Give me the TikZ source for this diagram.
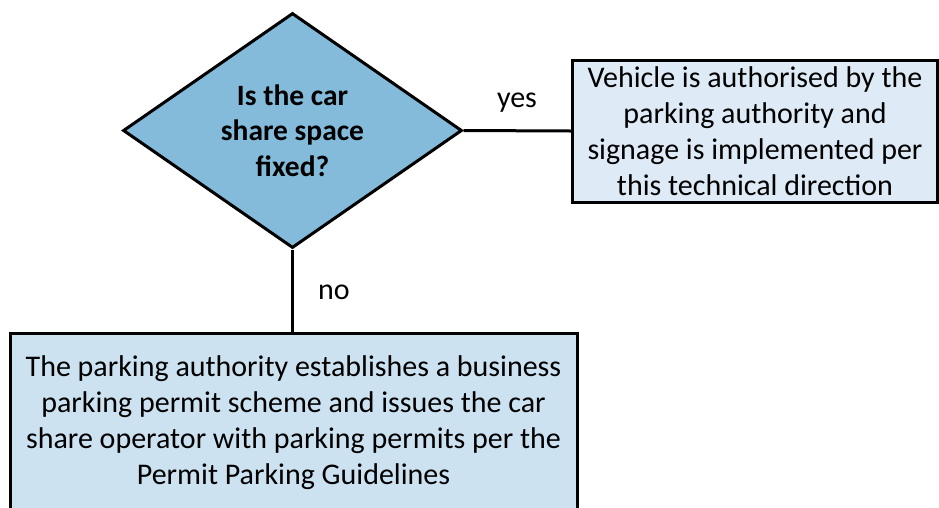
\documentclass[tikz,border=0pt]{standalone}
\usepackage{fontspec}
\setmainfont{Carlito}
\usetikzlibrary{shapes.geometric}
\definecolor{diafill}{RGB}{132,187,218}
\definecolor{lightfill}{RGB}{222,235,246}
\definecolor{midfill}{RGB}{204,226,240}
\tikzset{
  every picture/.style={x=1pt,y=-1pt},
  txt/.style={font=\fontsize{30}{36}\selectfont, align=center},
  boxA/.style={draw=black, line width=3pt, fill=lightfill, rectangle, txt, inner sep=0pt},
  boxB/.style={draw=black, line width=3pt, fill=midfill, rectangle, txt, inner sep=0pt},
  decision/.style={draw=black, line width=3pt, fill=diafill, diamond, inner sep=0pt, txt, font=\fontsize{29.5}{35.5}\selectfont\bfseries},
  link/.style={line width=3pt, draw=black},
  lbl/.style={font=\fontsize{30}{36}\selectfont}
}
\begin{document}
\begin{tikzpicture}
\fill[white] (0,0) rectangle (939,507);
\useasboundingbox (0,0) rectangle (939,507);
% diamond
\node[decision, minimum width=339pt, minimum height=235pt, aspect=1.44] (q) at (292.5,130.5) {Is the car\\share space\\fixed?};
% yes box
\node[boxA, minimum width=365pt, minimum height=142pt] (yesbox) at (755,131) {Vehicle is authorised by the\\parking authority and\\signage is implemented per\\this technical direction};
% no box
\node[boxB, minimum width=567pt, minimum height=180pt] (nobox) at (293.5,423) {The parking authority establishes a business\\parking permit scheme and issues the car\\share operator with parking permits per the\\Permit Parking Guidelines};
\draw[link] (q.east) -- (yesbox.west);
\draw[link] (q.south) -- (q.south |- nobox.north);
\node[lbl] (yes) at (517,103) {yes};
\node[lbl] (no) at (334,292) {no};
\end{tikzpicture}
\end{document}
